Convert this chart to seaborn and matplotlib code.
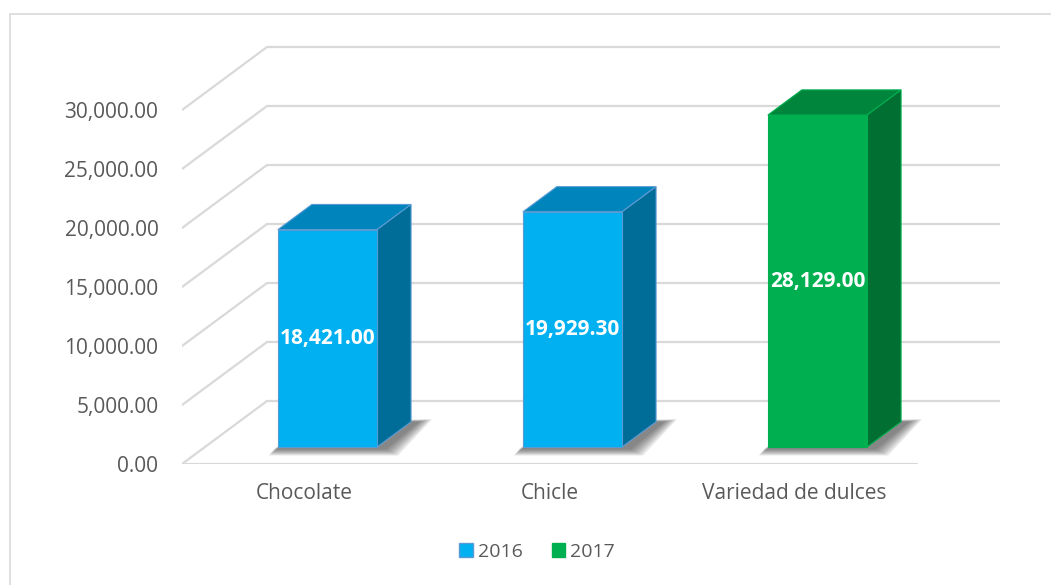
import pandas as pd
import matplotlib.pyplot as plt
from matplotlib.patches import Polygon, Patch, Rectangle
import seaborn as sns

# Data
categories = ["Chocolate", "Chicle", "Variedad de dulces"]
values = [18421.00, 19929.30, 28129.00]
years = ["2016", "2016", "2017"]
y_ticks = [0, 5000, 10000, 15000, 20000, 25000, 30000]
legend_years = ["2016", "2017"]

front_colors = {"2016": "#00B0F0", "2017": "#00B050"}
top_colors = {"2016": "#0084BC", "2017": "#00853D"}
side_colors = {"2016": "#006D98", "2017": "#006F31"}
edge_colors = {"2016": "#5B9BD5", "2017": "#00B050"}

df = pd.DataFrame({"categoria": categories, "valor": values, "año": years})

sns.set_style("white")
plt.rcParams["font.family"] = ["Open Sans", "DejaVu Sans"]

fig = plt.figure(figsize=(10.51, 5.85), dpi=100)
W, H = 1051, 585
ax = fig.add_axes([182 / W, 1 - 464 / H, 818 / W, 424 / H])

# pseudo-3d geometry (pixel offsets converted to data units)
px_x = 1 / 245
px_y = 84.75
wall_dx, wall_dy = 85 * px_x, 63 * px_y
t0, t1 = 0.27, 0.67   # bar front / back as a fraction of the depth
bar_w = 0.405

sns.barplot(data=df, x="categoria", y="valor", hue="año", palette=front_colors,
            dodge=False, width=bar_w, saturation=1, legend=False, ax=ax, zorder=3)

grid_c = "#D9D9D9"
# walls: diagonal on the left side wall + horizontal lines on the back wall
for v in y_ticks:
    ax.plot([-0.5, -0.5 + wall_dx], [v, v + wall_dy], color=grid_c, lw=1.6, zorder=0)
    ax.plot([-0.5 + wall_dx, 2.5 + wall_dx], [v + wall_dy] * 2, color=grid_c, lw=1.6, zorder=0)
ax.plot([-0.5, 2.5], [0, 0], color=grid_c, lw=1.6, zorder=0)

ddx, ddy = (t1 - t0) * wall_dx, (t1 - t0) * wall_dy
for p in list(ax.patches):
    x0, w, h = p.get_x(), p.get_width(), p.get_height()
    idx = int(round(x0 + w / 2))
    yr = years[idx]
    fx0 = x0 + t0 * wall_dx
    fy0 = t0 * wall_dy
    fx1, fy1 = fx0 + w, fy0 + h
    p.set_x(fx0)
    p.set_y(fy0)
    p.set_edgecolor(edge_colors[yr])
    p.set_linewidth(0.8)

    # soft shadow on the floor, mostly to the right of the bar
    for k in range(7):
        e = 1 + 2.0 * k
        ex, ey = e * px_x, e * px_y
        sx, sy = 8 * px_x, -2 * px_y
        shadow = [(fx0 - 4 * px_x - ex * 0.4, fy0 - ey * 0.5 + sy),
                  (fx1 + ex + sx, fy0 - ey * 0.5 + sy),
                  (fx1 + ddx + ex + sx, fy0 + ddy + ey * 0.2),
                  (fx0 + ddx, fy0 + ddy)]
        ax.add_patch(Polygon(shadow, closed=True, fc="#222222", ec="none",
                             alpha=0.1, zorder=1))

    top = [(fx0, fy1), (fx1, fy1), (fx1 + ddx, fy1 + ddy), (fx0 + ddx, fy1 + ddy)]
    side = [(fx1, fy0), (fx1 + ddx, fy0 + ddy), (fx1 + ddx, fy1 + ddy), (fx1, fy1)]
    ax.add_patch(Polygon(top, closed=True, fc=top_colors[yr], ec=edge_colors[yr],
                         lw=0.8, zorder=2))
    ax.add_patch(Polygon(side, closed=True, fc=side_colors[yr], ec=edge_colors[yr],
                         lw=0.8, zorder=2))
    ax.text(fx0 + w / 2, fy0 + h / 2, f"{values[idx]:,.2f}", color="white",
            fontsize=15, fontweight="bold", ha="center", va="center", zorder=5)

ax.set_xlim(-0.5, -0.5 + 818 * px_x)
ax.set_ylim(0, 424 * px_y)
ax.set_yticks(y_ticks)
ax.set_yticklabels([f"{v:,.2f}" for v in y_ticks])
ax.set_xticks(range(len(categories)))
ax.set_xticklabels(categories)
ax.set_xlabel("")
ax.set_ylabel("")
ax.tick_params(axis="both", length=0, labelsize=15, colors="#595959")
ax.tick_params(axis="y", pad=17)
ax.tick_params(axis="x", pad=14)
sns.despine(ax=ax, left=True, bottom=True)

handles = [Patch(fc=front_colors[y], ec=edge_colors[y]) for y in legend_years]
fig.legend(handles=handles, labels=legend_years, loc="center",
           bbox_to_anchor=(0.511, 1 - 552 / H), ncol=2, frameon=False,
           handlelength=0.7, handleheight=0.7, handletextpad=0.25,
           columnspacing=1.5, fontsize=14, labelcolor="#595959")

fig.add_artist(Rectangle((10 / W, -0.05), 1.1, 1.05 - 14 / H, transform=fig.transFigure,
                         fill=False, ec=grid_c, lw=1.2))

fig.savefig("out.png", dpi=100)
